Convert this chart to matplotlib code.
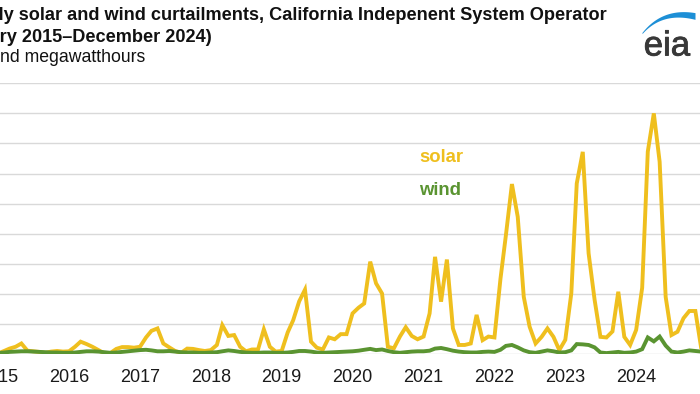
import numpy as np
import pandas as pd
import matplotlib
matplotlib.use("Agg")
import matplotlib.pyplot as plt
import matplotlib.dates as mdates
import matplotlib.patheffects as pe

plt.rcParams['font.family'] = ['Liberation Sans', 'DejaVu Sans']

# monthly curtailments, thousand MWh
months = pd.date_range('2015-01-01', periods=120, freq='MS')
solar = [
    2, 10, 18, 24, 35, 11, 9, 7, 4, 8, 10, 8,            # 2015
    9, 24, 41, 33, 24, 13, 2, 3, 17, 23, 23, 21,         # 2016
    24, 55, 77, 85, 35, 22, 10, 4, 18, 17, 13, 10,       # 2017
    13, 30, 96, 60, 63, 24, 9, 15, 15, 82, 24, 8,        # 2018
    10, 72, 112, 175, 214, 41, 21, 15, 55, 49, 66, 66,   # 2019
    135, 154, 168, 307, 235, 201, 24, 19, 58, 89, 60, 49,   # 2020
    58, 135, 323, 174, 314, 85, 30, 30, 35, 130, 46, 58,    # 2021
    55, 250, 395, 565, 456, 190, 91, 35, 57, 85, 57, 13,    # 2022
    47, 202, 567, 672, 335, 180, 57, 55, 75, 207, 57, 30,   # 2023
    80, 220, 673, 800, 639, 190, 63, 74, 119, 143, 143, 20, # 2024
]
wind = [
    3, 5, 7, 8, 9, 9, 8, 7, 6, 5, 5, 4,
    4, 5, 7, 9, 9, 8, 6, 4, 5, 7, 9, 11,
    13, 14, 12, 9, 9, 10, 8, 6, 5, 5, 4, 4,
    5, 6, 9, 12, 10, 7, 5, 4, 4, 5, 5, 4,
    4, 5, 7, 10, 10, 8, 5, 4, 5, 6, 7, 8,
    9, 11, 14, 17, 13, 15, 10, 6, 4, 6, 8, 9,
    9, 11, 18, 20, 16, 11, 8, 6, 5, 5, 7, 8,
    7, 14, 27, 30, 22, 12, 6, 4, 8, 12, 9, 5,
    6, 12, 33, 32, 30, 22, 5, 3, 5, 7, 4, 5,
    8, 16, 55, 42, 58, 28, 8, 5, 8, 12, 10, 8,
]

title1 = 'Monthly solar and wind curtailments, California Indepenent System Operator'
title2 = '(January 2015\u2013December 2024)'
units = 'thousand megawatthours'

solar_col = '#efbf1e'
wind_col = '#5a9431'

W, H = 700, 394
fig = plt.figure(figsize=(W / 100, H / 100), dpi=100)
renderer = fig.canvas.get_renderer()

# the picture is cropped on the left, so the axes start off-canvas
left_px, right_px = -35, 707
top_px, base_px = 83.3, 354
ax = fig.add_axes([left_px / W, 1 - base_px / H,
                   (right_px - left_px) / W, (base_px - top_px) / H])

px_per_day = 70.9 / 365.25
t0 = mdates.date2num(pd.Timestamp('2015-01-01'))
jan_px = -1.9
ax.set_xlim(t0 + (left_px - jan_px) / px_per_day, t0 + (right_px - jan_px) / px_per_day)
ax.set_ylim(0, 900)

ax.plot(months, solar, color=solar_col, lw=2.8, solid_joinstyle='miter', zorder=3)
ax.plot(months, wind, color=wind_col, lw=2.8, solid_joinstyle='miter', zorder=4)

ax.set_yticks(np.arange(0, 1000, 100))
ax.yaxis.grid(True, color='#d9d9d9', lw=1)
ax.set_axisbelow(True)
ax.tick_params(axis='y', left=False, labelleft=False)
ax.xaxis.set_major_locator(mdates.YearLocator())
ax.xaxis.set_major_formatter(mdates.DateFormatter('%Y'))
ax.tick_params(axis='x', length=0, pad=10.5, labelsize=13, colors='#1a1a1a')
for s in ax.spines.values():
    s.set_visible(False)

fig.text(419 / W, 1 - 157.5 / H, 'solar', color=solar_col, fontsize=13.3,
         fontweight='bold', va='center', ha='left')
fig.text(419 / W, 1 - 190.5 / H, 'wind', color=wind_col, fontsize=13.3,
         fontweight='bold', va='center', ha='left')


def cut_text(y_px, full, hidden, shift, **kw):
    # place a text so that its first characters fall off the left edge
    probe = fig.text(0, 0, hidden, **kw)
    w = probe.get_window_extent(renderer).width
    probe.remove()
    fig.text((shift - w) / W, 1 - y_px / H, full, va='center', ha='left', **kw)


cut_text(15, title1, 'Month', -1, fontsize=13.1, fontweight='bold', color='#111111')
cut_text(37, title2, '(Janua', 0, fontsize=13.1, fontweight='bold', color='#111111')
cut_text(58, units, 'thousa', 0, fontsize=12.7, color='#111111')

# eia logo, drawn in pixel coordinates
lax = fig.add_axes([620 / W, 1 - 70 / H, 80 / W, 70 / H])
lax.set_xlim(620, 700)
lax.set_ylim(70, 0)
lax.axis('off')
t = np.linspace(0, 1, 80)
p0, p1, p2 = np.array([642, 33]), np.array([662, 9]), np.array([695, 16])
bx = (1 - t) ** 2 * p0[0] + 2 * (1 - t) * t * p1[0] + t ** 2 * p2[0]
by = (1 - t) ** 2 * p0[1] + 2 * (1 - t) * t * p1[1] + t ** 2 * p2[1]
th = 1.2 + 5.5 * t
lax.fill_between(bx, by - th / 2, by + th / 2, color='#1d8fd6', lw=0)
lax.text(667, 55.5, 'eia', fontsize=25, color='#383838', ha='center', va='baseline',
         path_effects=[pe.withStroke(linewidth=0.6, foreground='#383838')])

fig.savefig('out.png', dpi=100)
